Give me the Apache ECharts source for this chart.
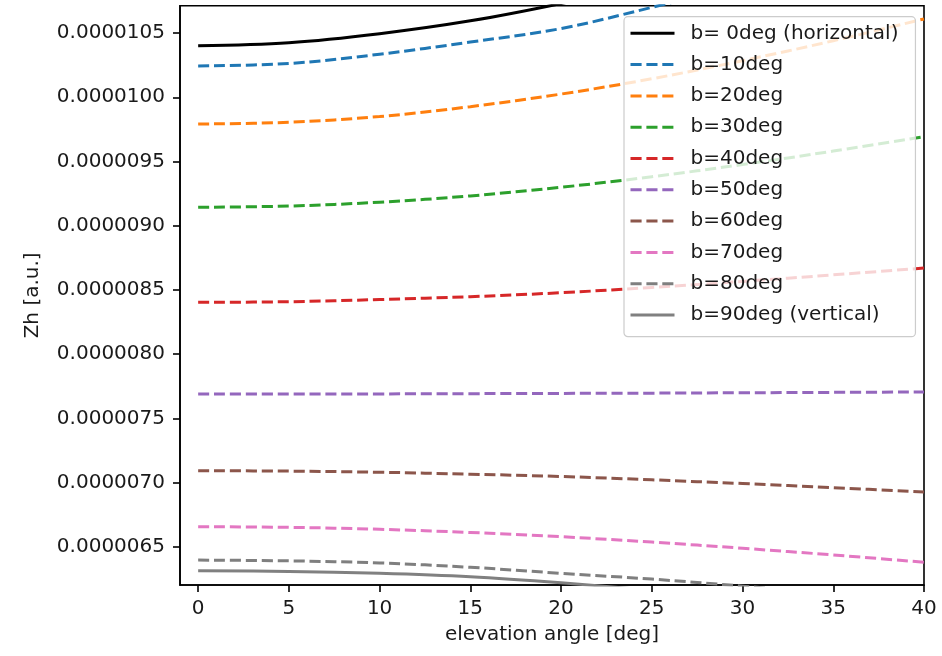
<!DOCTYPE html>
<html>
<head>
<meta charset="utf-8">
<script src="https://cdn.jsdelivr.net/npm/echarts@6/dist/echarts.min.js"></script>
<style>html,body{margin:0;padding:0;background:#fff;}#c{width:942px;height:656px;}</style>
</head>
<body>
<div id="c"></div>
<script>
// elevation angle [deg]
const elevation = [0, 5, 10, 15, 20, 25, 30, 35, 40];
// Zh [a.u.] per beam tilt b
const zh_b0  = [104.02e-7, 104.25e-7, 104.95e-7, 105.95e-7, 107.30e-7, 108.90e-7, 110.80e-7, 112.90e-7, 115.20e-7];
const zh_b10 = [102.44e-7, 102.63e-7, 103.35e-7, 104.30e-7, 105.35e-7, 107.00e-7, 108.80e-7, 110.80e-7, 113.00e-7];
const zh_b20 = [97.92e-7, 98.05e-7, 98.50e-7, 99.27e-7, 100.25e-7, 101.44e-7, 102.85e-7, 104.40e-7, 106.10e-7];
const zh_b30 = [91.43e-7, 91.53e-7, 91.83e-7, 92.32e-7, 92.99e-7, 93.81e-7, 94.76e-7, 95.81e-7, 96.93e-7];
const zh_b40 = [84.03e-7, 84.08e-7, 84.25e-7, 84.47e-7, 84.78e-7, 85.19e-7, 85.66e-7, 86.17e-7, 86.70e-7];
const zh_b50 = [76.89e-7, 76.89e-7, 76.90e-7, 76.92e-7, 76.94e-7, 76.96e-7, 76.99e-7, 77.02e-7, 77.05e-7];
const zh_b60 = [70.92e-7, 70.89e-7, 70.80e-7, 70.65e-7, 70.47e-7, 70.21e-7, 69.92e-7, 69.60e-7, 69.27e-7];
const zh_b70 = [66.56e-7, 66.51e-7, 66.36e-7, 66.11e-7, 65.78e-7, 65.36e-7, 64.88e-7, 64.36e-7, 63.79e-7];
const zh_b80 = [63.96e-7, 63.90e-7, 63.74e-7, 63.40e-7, 62.93e-7, 62.48e-7, 61.93e-7, 61.30e-7, 60.60e-7];
const zh_b90 = [63.13e-7, 63.08e-7, 62.93e-7, 62.66e-7, 62.19e-7, 61.60e-7, 60.90e-7, 60.17e-7, 59.41e-7];

const seriesNames = ['b= 0deg (horizontal)', 'b=10deg', 'b=20deg', 'b=30deg', 'b=40deg',
  'b=50deg', 'b=60deg', 'b=70deg', 'b=80deg', 'b=90deg (vertical)'];
const seriesValues = [zh_b0, zh_b10, zh_b20, zh_b30, zh_b40, zh_b50, zh_b60, zh_b70, zh_b80, zh_b90];
const seriesColors = ['#000000', '#1f77b4', '#ff7f0e', '#2ca02c', '#d62728',
  '#9467bd', '#8c564b', '#e377c2', '#7f7f7f', '#808080'];
const seriesDashed = [false, true, true, true, true, true, true, true, true, false];

const xTicks = [0, 5, 10, 15, 20, 25, 30, 35, 40];
const yTicks = [6.5e-6, 7.0e-6, 7.5e-6, 8.0e-6, 8.5e-6, 9.0e-6, 9.5e-6, 1.0e-5, 1.05e-5];

const FONT = 'DejaVu Sans';
const chart = echarts.init(document.getElementById('c'), null, {renderer: 'canvas'});

const series = seriesNames.map((name, i) => ({
  name: name,
  type: 'line',
  data: elevation.map((x, j) => [x, seriesValues[i][j]]),
  smooth: 0.35,
  symbol: 'none',
  showSymbol: false,
  clip: true,
  z: 2,
  lineStyle: {
    color: seriesColors[i],
    width: 3,
    type: seriesDashed[i] ? [11.1, 4.8] : 'solid',
    cap: 'butt'
  },
  itemStyle: {color: seriesColors[i]}
}));

chart.setOption({
  animation: false,
  backgroundColor: '#ffffff',
  grid: {
    left: 180, right: 18, top: 5.7, bottom: 71,
    show: true, borderColor: '#000', borderWidth: 1.6, backgroundColor: 'transparent'
  },
  legend: {
    orient: 'vertical',
    left: 624, top: 16.7,
    itemWidth: 44, itemHeight: 20, itemGap: 11.3,
    padding: [6.6, 17, 11.7, 5],
    backgroundColor: 'rgba(255,255,255,0.8)',
    borderColor: '#cccccc', borderWidth: 1.2, borderRadius: 4,
    itemStyle: {opacity: 0},
    lineStyle: {width: 3},
    textStyle: {fontFamily: FONT, fontSize: 20, color: '#1a1a1a', lineHeight: 20, padding: [0, 0, 0, 11]},
    data: seriesNames
  },
  xAxis: {
    type: 'value', min: -1, max: 40,
    name: 'elevation angle [deg]', nameLocation: 'middle', nameGap: 40,
    nameTextStyle: {fontFamily: FONT, fontSize: 20, color: '#1a1a1a'},
    axisLine: {show: true, onZero: false, lineStyle: {color: '#000', width: 1.6}},
    axisTick: {show: true, length: 7, lineStyle: {color: '#000', width: 1.6}, customValues: xTicks},
    axisLabel: {fontFamily: FONT, fontSize: 20, color: '#1a1a1a', margin: 14, customValues: xTicks,
      formatter: (v) => String(v)},
    splitLine: {show: false}
  },
  yAxis: {
    type: 'value', min: 6.202e-6, max: 1.0713e-5,
    name: 'Zh [a.u.]', nameLocation: 'middle', nameGap: 137, nameRotate: 90,
    nameTextStyle: {fontFamily: FONT, fontSize: 20, color: '#1a1a1a'},
    axisLine: {show: true, onZero: false, lineStyle: {color: '#000', width: 1.6}},
    axisTick: {show: true, length: 7, lineStyle: {color: '#000', width: 1.6}, customValues: yTicks},
    axisLabel: {fontFamily: FONT, fontSize: 20, color: '#1a1a1a', margin: 15, customValues: yTicks,
      formatter: (v) => v.toFixed(7)},
    splitLine: {show: false}
  },
  series: series
});
</script>
</body>
</html>
